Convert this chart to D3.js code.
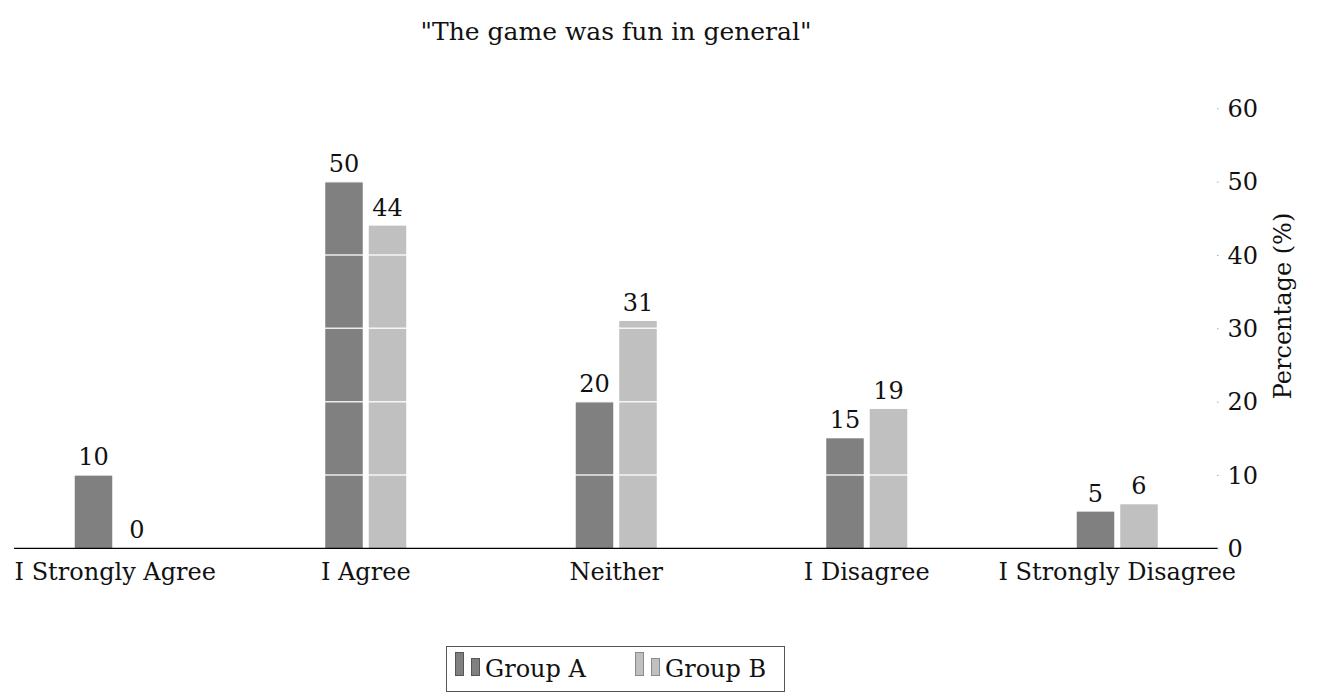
<!DOCTYPE html>
<html>
<head>
<meta charset="utf-8">
<script src="https://cdn.jsdelivr.net/npm/d3@7"></script>
<style>
  html, body { margin: 0; padding: 0; background: #fff; }
  svg { display: block; }
  text { font-family: "DejaVu Serif", serif; fill: #111; }
</style>
</head>
<body>
<script>
// Survey answers for the statement, in percent
const categories = ["I Strongly Agree", "I Agree", "Neither", "I Disagree", "I Strongly Disagree"];
const groups = ["Group A", "Group B"];
const groupA = [10, 50, 20, 15, 5];
const groupB = [0, 44, 31, 19, 6];
const yTicks = [0, 10, 20, 30, 40, 50, 60];
const colors = ["#808080", "#c0c0c0"];
const legendStroke = ["#555555", "#8a8a8a"];

const W = 1322, H = 693;
const svg = d3.select("body").append("svg").attr("width", W).attr("height", H);

const x0 = d3.scaleBand().domain(categories).range([-10, 1242.5]).padding(0);
const x1 = d3.scaleBand().domain(groups).range([x0.bandwidth() / 2 - 40.5, x0.bandwidth() / 2 + 40.5])
  .paddingInner(0.138).paddingOuter(0);
const y = d3.scaleLinear().domain([0, 60]).range([548.3, 108.3]);

const rows = categories.map((c, i) => ({ cat: c, vals: [groupA[i], groupB[i]] }));

// title
svg.append("text").attr("x", 616).attr("y", 40).attr("text-anchor", "middle")
  .style("font-size", "25px").text("\"The game was fun in general\"");

// bars
const cat = svg.append("g").selectAll("g").data(rows).join("g")
  .attr("transform", d => `translate(${x0(d.cat)},0)`);

cat.selectAll("rect").data(d => d.vals.map((v, k) => ({ g: groups[k], v, k }))).join("rect")
  .attr("x", d => x1(d.g))
  .attr("width", x1.bandwidth())
  .attr("y", d => y(d.v))
  .attr("height", d => y(0) - y(d.v))
  .attr("fill", d => colors[d.k]);

// white grid lines drawn over the bars
svg.append("g").selectAll("line").data(yTicks.filter(t => t > 0)).join("line")
  .attr("x1", 14).attr("x2", 1216)
  .attr("y1", d => y(d)).attr("y2", d => y(d))
  .attr("stroke", "#ffffff").attr("stroke-opacity", 0.85).attr("stroke-width", 1.5);

// value labels
cat.selectAll("text.val").data(d => d.vals.map((v, k) => ({ g: groups[k], v, k }))).join("text")
  .attr("class", "val")
  .attr("x", d => x1(d.g) + x1.bandwidth() / 2)
  .attr("y", d => y(d.v) - 10)
  .attr("text-anchor", "middle")
  .style("font-size", "24px")
  .text(d => d.v);

// baseline
svg.append("line").attr("x1", 14).attr("x2", 1218).attr("y1", y(0)).attr("y2", y(0))
  .attr("stroke", "#000").attr("stroke-width", 1.3);

// category labels
const xAxis = svg.append("g").attr("transform", `translate(0,${y(0)})`)
  .call(d3.axisBottom(x0).tickSize(0).tickPadding(0));
xAxis.select(".domain").remove();
xAxis.selectAll("text").attr("y", 31.7).attr("dy", null)
  .style("font-size", "24px").style("font-family", "DejaVu Serif, serif").attr("fill", "#111");

// right-hand value axis
const yAxis = svg.append("g").attr("transform", "translate(1217,0)")
  .call(d3.axisRight(y).tickValues(yTicks).tickSize(1.5).tickPadding(9));
yAxis.select(".domain").remove();
yAxis.selectAll("line").attr("stroke", "#aaa");
yAxis.selectAll("text").style("font-size", "24px").style("font-family", "DejaVu Serif, serif")
  .attr("fill", "#111").attr("dy", "0.34em");

svg.append("text")
  .attr("transform", "translate(1291,306) rotate(-90)")
  .attr("text-anchor", "middle")
  .style("font-size", "24px")
  .text("Percentage (%)");

// legend
const lg = svg.append("g");
lg.append("rect").attr("x", 446.5).attr("y", 646.5).attr("width", 338).attr("height", 45)
  .attr("fill", "#fff").attr("stroke", "#555").attr("stroke-width", 1);
const items = lg.selectAll("g").data(groups).join("g")
  .attr("transform", (d, i) => `translate(${455 + i * 180},0)`);
items.append("rect").attr("x", 0.5).attr("y", 652.5).attr("width", 8).attr("height", 23)
  .attr("fill", (d, i) => colors[i]).attr("stroke", (d, i) => legendStroke[i]);
items.append("rect").attr("x", 16.5).attr("y", 658.5).attr("width", 8).attr("height", 17)
  .attr("fill", (d, i) => colors[i]).attr("stroke", (d, i) => legendStroke[i]);
items.append("text").attr("x", 30).attr("y", 677).style("font-size", "24px").text(d => d);
</script>
</body>
</html>
